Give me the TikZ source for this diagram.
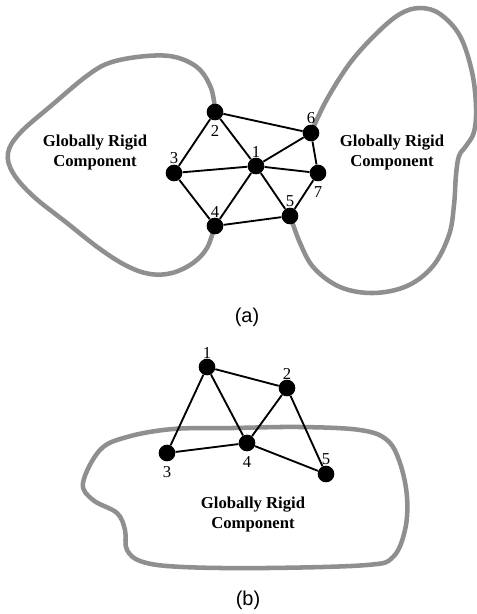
\documentclass[tikz,border=0pt]{standalone}
\usepackage{fontspec}
\setmainfont{Liberation Serif}
\newfontfamily\capfont{Liberation Sans}
\definecolor{blobgray}{gray}{0.56}
\tikzset{
  vtx/.style={circle,fill=black,inner sep=0pt,minimum size=12.5pt},
  lbl/.style={inner sep=0pt,font=\fontsize{12.5}{12.5}\selectfont},
  lblb/.style={lbl,label distance=3.5pt},
  link/.style={line width=1.4pt},
  blob/.style={line width=3.4pt,blobgray},
  comp/.style={align=center,font=\fontsize{12.5}{15}\selectfont\bfseries},
  subcap/.style={font=\capfont\fontsize{15}{15}\selectfont},
}
\begin{document}
\begin{tikzpicture}[x=0.75pt,y=-0.75pt]
  \useasboundingbox (0,0) rectangle (477,614);
  % (a)
  \draw[blob] plot[smooth,tension=0.6] coordinates {(215,110) (211,88) (198,68) (175,57) (147,56) (112,62) (88,75)
    (52,105) (20,133) (8,153) (13,173) (33,196) (67,223) (100,249) (127,266) (150,274) (172,273) (193,263) (207,248) (214,228)};
  \draw[blob] plot[smooth,tension=0.6] coordinates {(311,133) (326,101) (350,63) (377,33) (400,14) (420,8) (440,14) (460,36)
    (472,72) (476,107) (474,132) (466,146) (459,156) (456,175) (454,205) (449,235) (433,266) (407,286) (373,293) (340,287)
    (314,268) (300,243) (291,218)};
  \node[comp] (ca) at (95,152) {Globally Rigid\\Component};
  \node[comp] (cb) at (392,152) {Globally Rigid\\Component};
  \node[vtx,label={[lbl]above:1}] (a1) at (256,166) {};
  \node[vtx,label={[lblb]below:2}] (a2) at (215,112) {};
  \node[vtx,label={[lbl]above:3}] (a3) at (174,173) {};
  \node[vtx,label={[lbl]above:4}] (a4) at (215,226) {};
  \node[vtx,label={[lbl]above:5}] (a5) at (290,216) {};
  \node[vtx,label={[lbl]above:6}] (a6) at (311,133) {};
  \node[vtx,label={[lblb]below:7}] (a7) at (318,173) {};
  \foreach \u/\v in {a2/a6,a2/a3,a2/a1,a3/a1,a3/a4,a1/a6,a1/a7,a1/a4,a1/a5,a6/a7,a7/a5,a4/a5}
    \draw[link] (\u) -- (\v);
  \node[subcap] (capa) at (247,317) {(a)};
  % (b)
  \draw[blob] plot[smooth cycle,tension=0.6] coordinates {(173,429) (233,428) (300,427) (360,430) (387,440) (400,463)
    (407,497) (405,530) (393,557) (367,565) (267,568) (183,567) (143,562) (127,550) (125,530) (117,513) (93,500) (83,483)
    (100,450) (127,437)};
  \node[comp] (cc) at (253,514) {Globally Rigid\\Component};
  \node[vtx,label={[lbl]above:1}] (b1) at (207,367) {};
  \node[vtx,label={[lbl]above:2}] (b2) at (287,388) {};
  \node[vtx,label={[lblb]below:3}] (b3) at (167,453) {};
  \node[vtx,label={[lblb]below:4}] (b4) at (247,443) {};
  \node[vtx,label={[lbl]above:5}] (b5) at (326,474) {};
  \foreach \u/\v in {b1/b2,b1/b3,b1/b4,b2/b4,b2/b5,b3/b4,b4/b5}
    \draw[link] (\u) -- (\v);
  \node[subcap] (capb) at (248,600) {(b)};
\end{tikzpicture}
\end{document}
